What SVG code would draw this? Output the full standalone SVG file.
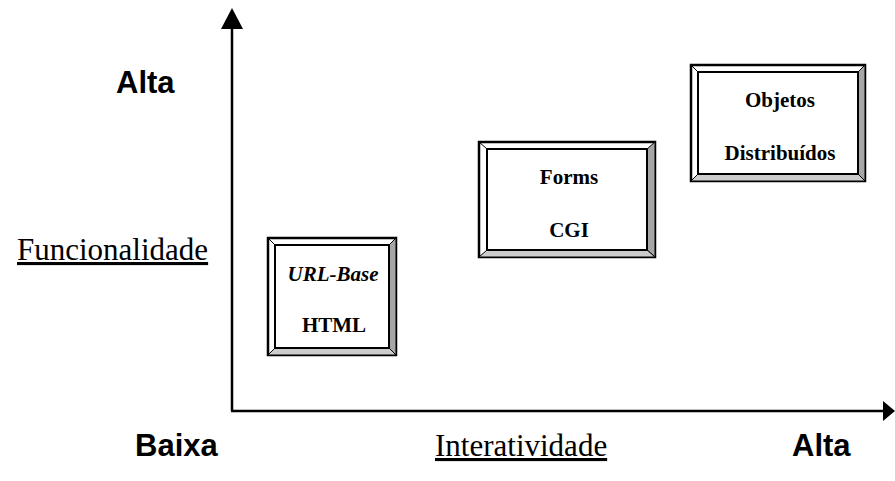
<svg xmlns="http://www.w3.org/2000/svg" width="895" height="481" viewBox="0 0 895 481">
<style>
.ax{stroke:#000;stroke-width:2.5;fill:none}
.lbl{font-family:"Liberation Sans",Arial,sans-serif;font-weight:bold;font-size:31px;fill:#000}
.axt{font-family:"Liberation Serif","Times New Roman",serif;font-size:31px;fill:#000;text-decoration:underline}
.bt{font-family:"Liberation Serif","Times New Roman",serif;font-weight:bold;font-size:21px;fill:#000;text-anchor:middle}
.o{fill:#fff;stroke:#000;stroke-width:2.5}
.i{fill:#fff;stroke:#000;stroke-width:2}
.r{fill:#a6a6a6;stroke:#000;stroke-width:1}
.b{fill:#cccccc;stroke:#000;stroke-width:1}
.d{stroke:#000;stroke-width:1}
</style>
<g id="connectors">
<line class="ax" x1="232" y1="411" x2="232" y2="26"/>
<polygon points="232,8 221,29 243,29" fill="#000"/>
<line class="ax" x1="231" y1="411" x2="885" y2="411"/>
<polygon points="895,411 883,401 883,421" fill="#000"/>
</g>
<g id="labels">
<text class="lbl" x="116" y="93">Alta</text>
<text class="axt" x="17" y="260">Funcionalidade</text>
<text class="lbl" x="135" y="456">Baixa</text>
<text class="axt" x="435" y="456">Interatividade</text>
<text class="lbl" x="792" y="456">Alta</text>
</g>
<g id="node-html">
<rect class="o" x="268" y="238" width="128" height="117"/>
<polygon class="r" points="396,238 396,355 389,348 389,245"/>
<polygon class="b" points="268,355 396,355 389,348 275,348"/>
<line class="d" x1="268" y1="238" x2="275" y2="245"/>
<rect class="i" x="275" y="245" width="114" height="103"/>
<text class="bt" x="333" y="281" font-style="italic">URL-Base</text>
<text class="bt" x="334" y="332">HTML</text>
</g>
<g id="node-cgi">
<rect class="o" x="479" y="142" width="176" height="115"/>
<polygon class="r" points="655,142 655,257 647,250 647,149"/>
<polygon class="b" points="479,257 655,257 647,250 487,250"/>
<line class="d" x1="479" y1="142" x2="487" y2="149"/>
<rect class="i" x="487" y="149" width="160" height="101"/>
<text class="bt" x="569" y="184">Forms</text>
<text class="bt" x="569" y="237">CGI</text>
</g>
<g id="node-objetos">
<rect class="o" x="691" y="65" width="174" height="116"/>
<polygon class="r" points="865,65 865,181 858,174 858,72"/>
<polygon class="b" points="691,181 865,181 858,174 698,174"/>
<line class="d" x1="691" y1="65" x2="698" y2="72"/>
<rect class="i" x="698" y="72" width="160" height="102"/>
<text class="bt" x="780" y="107">Objetos</text>
<text class="bt" x="780" y="160">Distribuídos</text>
</g>
</svg>
